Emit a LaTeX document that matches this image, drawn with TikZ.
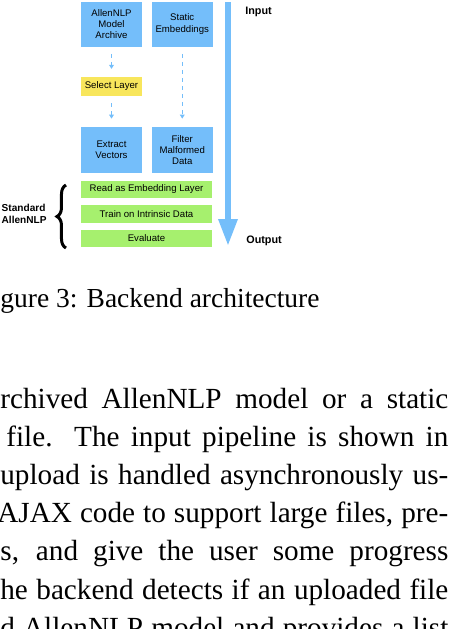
\documentclass[tikz,border=0pt]{standalone}
\usepackage{fontspec}
\setmainfont{Liberation Serif}
\setsansfont{Liberation Sans}
\usetikzlibrary{arrows.meta,decorations.pathreplacing}

\definecolor{boxblue}{RGB}{116,190,250}
\definecolor{layeryellow}{RGB}{248,230,92}
\definecolor{stepgreen}{RGB}{166,240,110}

\begin{document}
\begin{tikzpicture}[x=0.5pt,y=-0.5pt]
   \tikzstyle{every node}=[inner sep=0pt, align=center, font=\sffamily\fontsize{4.8}{5.6}\selectfont]
   \tikzstyle{stage}=[fill=boxblue, minimum width=30.5pt, minimum height=22.5pt]
   \tikzstyle{layer}=[fill=layeryellow, minimum width=30.5pt, minimum height=9.25pt]
   \tikzstyle{nlpstep}=[fill=stepgreen, minimum width=65.5pt, minimum height=8.75pt]
   \tikzstyle{flow}=[draw=boxblue, dash pattern=on 2pt off 2pt, line width=0.6pt, -{Triangle[width=2.4pt,length=2pt]}, shorten <=3.5pt, shorten >=4pt]
   \tikzstyle{side}=[anchor=base west, font=\sffamily\bfseries\fontsize{5.4}{6.2}\selectfont]
   \tikzstyle{caption}=[anchor=base west, font=\fontsize{13.75}{16.9}\selectfont]
   \tikzstyle{body}=[anchor=base west, font=\fontsize{14.6}{18}\selectfont]

   \useasboundingbox (0,0) rectangle (458,629);

   % two inputs
   \node[stage] (archive) at (111.5,24) {AllenNLP\\Model\\Archive};
   \node[stage] (static) at (182.25,24) {Static\\Embeddings};
   \node[layer] (select) at (111.5,86.5) {Select Layer};
   \node[stage, minimum height=23pt] (extract) at (111.5,150) {Extract\\Vectors};
   \node[stage, minimum height=23pt] (filter) at (182.25,150) {Filter\\Malformed\\Data};

   \draw[flow] (archive) -- (select);
   \draw[flow] (select) -- (extract);
   \draw[flow] (static) -- (filter);

   % standard allennlp part
   \node[nlpstep] (read) at (146.5,189.5) {Read as Embedding Layer};
   \node[nlpstep] (train) at (146.5,214) {Train on Intrinsic Data};
   \node[nlpstep] (evaluate) at (146.5,238.5) {Evaluate};

   \coordinate (bracetop) at (66,185);
   \coordinate (bracebot) at (66,248);
   \draw[decorate, decoration={brace, amplitude=4.5pt}, line width=1.5pt] (bracebot) -- (bracetop);
   \node[side, anchor=east, align=left, font=\sffamily\bfseries\fontsize{5.05}{6.1}\selectfont] (standard) at (47,214) {Standard\\AllenNLP};

   % input to output
   \coordinate (inpoint) at (228,2);
   \coordinate (outpoint) at (228,246);
   \draw[boxblue, line width=3pt, -{Triangle[width=9pt,length=13.5pt]}] (inpoint) -- (outpoint);
   \node[side] (inlabel) at (245,14) {Input};
   \node[side] (outlabel) at (246,243) {Output};

   % caption and text
   \node[caption] (figcaption) at (0,307.5) {gure 3: Backend architecture};
   \foreach \xl/\lw/\txt [count=\i from 0] in {
      0/224/{rchived AllenNLP model or a static},
      6/221/{file. The input pipeline is shown in},
      0/224/{upload is handled asynchronously us-},
      -3/225.5/{AJAX code to support large files, pre-},
      0/224/{s, and give the user some progress},
      0/224/{he backend detects if an uploaded file},
      0/224/{d AllenNLP model and provides a list}}
      \node[body] (line\i) at (\xl,408+38.2*\i) {\makebox[\lw pt][s]{\txt}};

\end{tikzpicture}
\end{document}
